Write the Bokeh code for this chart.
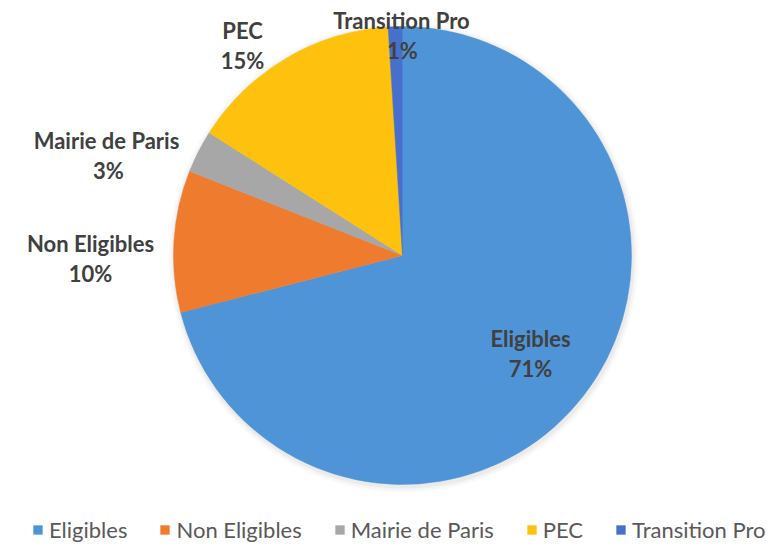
import math
from bokeh.plotting import figure
from bokeh.models import ColumnDataSource, Range1d, Legend, LegendItem
from bokeh.core.properties import value
from bokeh.embed import file_html
from bokeh.resources import INLINE

# ---- data ----
categories = ["Eligibles", "Non Eligibles", "Mairie de Paris", "PEC", "Transition Pro"]
shares = [71, 10, 3, 15, 1]
pct_labels = ["71%", "10%", "3%", "15%", "1%"]
colors = ["#5094d8", "#ef7b2e", "#a7a7a7", "#fec10e", "#4670cc"]

# ---- layout (page pixel coordinates) ----
W, H = 775, 545
PAGE_H = 547
cx, cy_page, R = 402, 255, 229
# label anchor positions in page pixels
label_pos = [(530, 338), (90, 243), (106, 140), (242, 30), (401, 20)]
pct_pos = [(530, 368), (90, 273), (108, 170), (242, 60), (402, 50)]

def fy(page_y):
    return PAGE_H - page_y

total = float(sum(shares))
starts, ends = [], []
acc = 0.0
for s in shares:
    starts.append(math.pi / 2 - 2 * math.pi * acc / total)
    acc += s
    ends.append(math.pi / 2 - 2 * math.pi * acc / total)

src = ColumnDataSource(dict(
    x=[cx] * len(categories), y=[fy(cy_page)] * len(categories),
    start=starts, end=ends, color=colors, cat=categories,
))

p = figure(width=W, height=H, x_range=Range1d(0, W), y_range=Range1d(PAGE_H - H, PAGE_H),
           output_backend="svg", toolbar_location=None, min_border=0)
p.axis.visible = False
p.grid.visible = False
p.outline_line_color = None
p.background_fill_color = "white"

# soft shadow
for i, (dr, a) in enumerate([(6, 0.04), (4, 0.05), (2, 0.07)]):
    p.circle(x=[cx + 1], y=[fy(cy_page + 2)], radius=R + dr, fill_color="#808080",
             fill_alpha=a, line_color=None)

wedges = p.wedge(x="x", y="y", radius=R, start_angle="start", end_angle="end",
                 direction="clock", fill_color="color", line_color="color", line_width=0.5,
                 source=src)

font = value("Lato")
label_src = ColumnDataSource(dict(
    x=[q[0] for q in label_pos], y=[fy(q[1]) for q in label_pos], t=categories,
))
pct_src = ColumnDataSource(dict(
    x=[q[0] for q in pct_pos], y=[fy(q[1]) for q in pct_pos], t=pct_labels,
))
for s in (label_src, pct_src):
    p.text(x="x", y="y", text="t", source=s, text_font=font, text_font_size="22px",
           text_font_style="bold", text_color="#404040", text_align="center",
           text_baseline="middle")

items = [LegendItem(label=c, renderers=[wedges], index=i) for i, c in enumerate(categories)]
legend = Legend(items=items, orientation="horizontal", location=(32, 2),
                glyph_width=11, glyph_height=11, label_standoff=6, spacing=32,
                padding=0, margin=0, border_line_color=None, background_fill_alpha=0,
                label_text_font="Lato", label_text_font_size="22px", label_text_color="#595959",
                label_height=24)
p.add_layout(legend)

open("out.html", "w").write(file_html(p, INLINE))
